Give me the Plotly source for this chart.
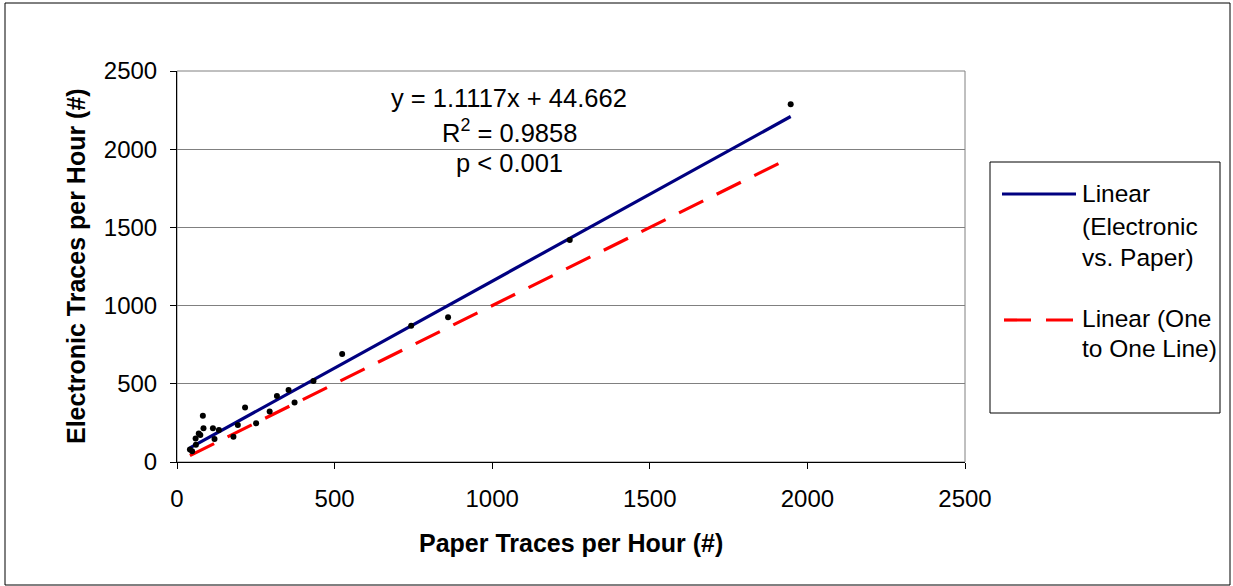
import plotly.graph_objects as go

# Paired hourly trace counts: paper records vs. electronic records
paper_traces = [41, 48, 60, 59, 74, 69, 82, 84, 114, 119, 133, 179, 193, 216, 251,
                294, 317, 354, 373, 433, 524, 743, 860, 1246, 1947]
electronic_traces = [80, 68, 110, 151, 172, 183, 296, 215, 215, 147, 204, 162, 236, 349, 247,
                     323, 422, 460, 381, 518, 690, 871, 925, 1420, 2287]

# Fitted trend line coefficients and statistics
slope = 1.1117
intercept = 44.662
r_squared = 0.9858
p_text = "p < 0.001"

axis_ticks = [0, 500, 1000, 1500, 2000, 2500]

FONT = "Liberation Sans, Arial, sans-serif"
W, H = 1233, 586
ML, MR, MT, MB = 177, 268, 71, 124
PW, PH = W - ML - MR, H - MT - MB


def px_x(px):
    return (px - ML) / PW


def px_y(py):
    return (H - MB - py) / PH


x_min, x_max = min(paper_traces), max(paper_traces)
fit_x = [x_min, x_max]
fit_y = [slope * v + intercept for v in fit_x]

fig = go.Figure()

fig.add_trace(go.Scatter(
    x=fit_x, y=fit_y, mode="lines",
    line=dict(color="#000080", width=3.2),
    name="Linear (Electronic vs. Paper)", showlegend=False,
))
fig.add_trace(go.Scatter(
    x=fit_x, y=fit_x, mode="lines",
    line=dict(color="#FF0000", width=3.2, dash="27px,15px"),
    name="Linear (One to One Line)", showlegend=False,
))
fig.add_trace(go.Scatter(
    x=paper_traces, y=electronic_traces, mode="markers",
    marker=dict(color="black", size=6),
    name="Electronic vs. Paper", showlegend=False,
))

axis_common = dict(
    range=[0, 2500], tickvals=axis_ticks, ticktext=[str(t) for t in axis_ticks],
    ticks="outside", ticklen=6, tickwidth=1, tickcolor="black",
    showline=True, linecolor="black", linewidth=1,
    zeroline=False, tickfont=dict(family=FONT, size=24, color="black"),
)
fig.update_xaxes(showgrid=False, ticklabelstandoff=9, **axis_common)
fig.update_yaxes(showgrid=True, gridcolor="#808080", gridwidth=1,
                 ticklabelstandoff=8, **axis_common)

shapes = [
    # plot area border
    dict(type="rect", xref="paper", yref="paper", x0=0, y0=0, x1=1, y1=1,
         line=dict(color="#808080", width=1), layer="below"),
    # outer chart frame
    dict(type="rect", xref="paper", yref="paper",
         x0=px_x(5), y0=px_y(585), x1=px_x(1230), y1=px_y(3),
         line=dict(color="black", width=1)),
    # legend box
    dict(type="rect", xref="paper", yref="paper",
         x0=px_x(990), y0=px_y(413), x1=px_x(1220), y1=px_y(162),
         line=dict(color="black", width=1), fillcolor="white"),
    # legend samples
    dict(type="line", xref="paper", yref="paper",
         x0=px_x(1002), x1=px_x(1076), y0=px_y(194), y1=px_y(194),
         line=dict(color="#000080", width=3.2)),
    dict(type="line", xref="paper", yref="paper",
         x0=px_x(1004), x1=px_x(1076), y0=px_y(320), y1=px_y(320),
         line=dict(color="#FF0000", width=3.2, dash="27px,15px")),
]

annotations = []


def text(t, x, y, size=24.5, xanchor="center", yanchor="middle", bold=False, angle=0):
    if bold:
        t = "<b>" + t + "</b>"
    annotations.append(dict(
        text=t, x=px_x(x), y=px_y(y), xref="paper", yref="paper",
        xanchor=xanchor, yanchor=yanchor, showarrow=False, textangle=angle,
        font=dict(family=FONT, size=size, color="black"),
    ))


# regression equation and statistics
text(f"y = {slope}x + {intercept}", 509, 98, size=25.5)
text(f"R<sup>2</sup> = {r_squared}", 509, 131, size=25.5)
text(p_text, 509, 163, size=25.5)

# axis titles
text("Paper Traces per Hour (#)", 571, 543, size=25, bold=True)
text("Electronic Traces per Hour (#)", 76, 266, size=25, bold=True, angle=-90)

# legend labels
text("Linear", 1080, 193, xanchor="left")
text("(Electronic", 1080, 226, xanchor="left")
text("vs. Paper)", 1080, 257, xanchor="left")
text("Linear (One", 1080, 318, xanchor="left")
text("to One Line)", 1080, 348, xanchor="left")

fig.update_layout(
    width=W, height=H,
    margin=dict(l=ML, r=MR, t=MT, b=MB),
    paper_bgcolor="white", plot_bgcolor="white",
    shapes=shapes, annotations=annotations,
    font=dict(family=FONT, color="black"),
)

fig.write_html("out.html")
